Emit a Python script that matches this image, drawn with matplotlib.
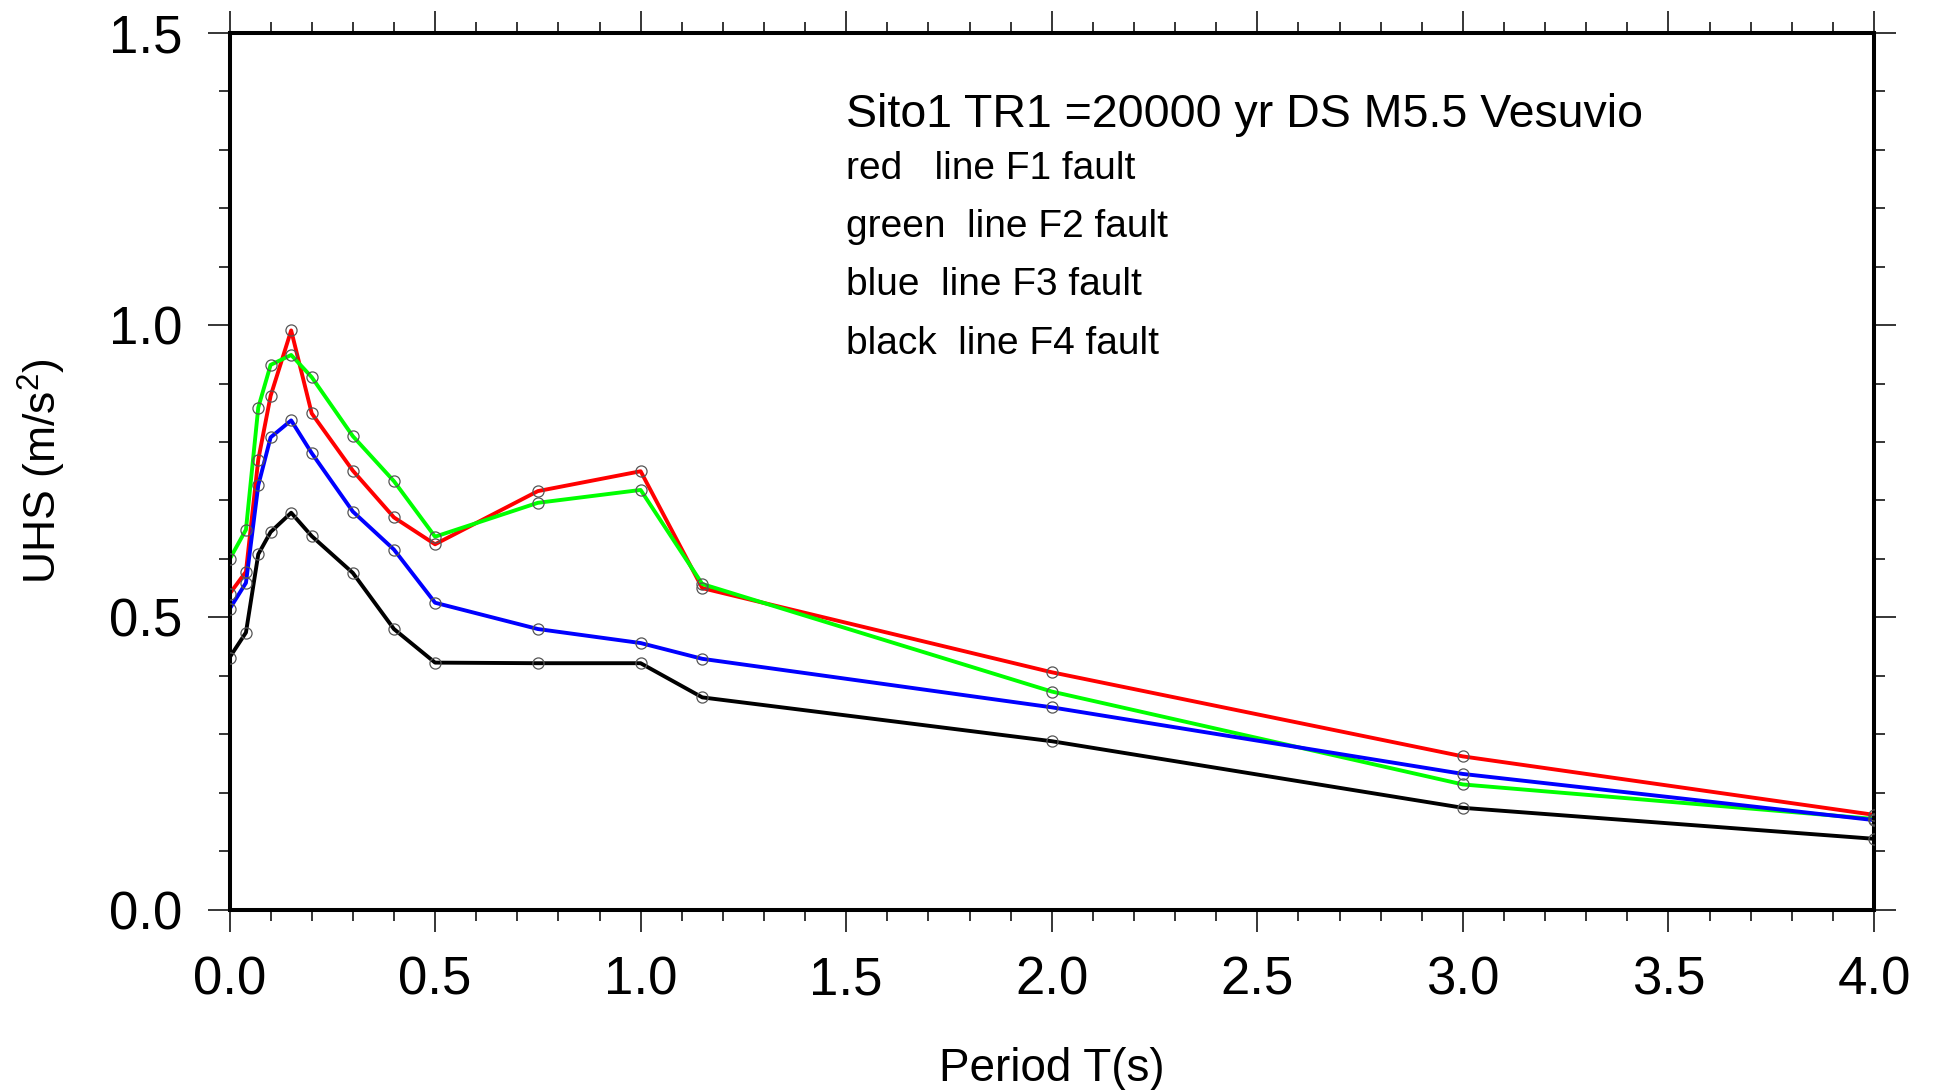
import matplotlib
matplotlib.use("Agg")
import matplotlib.pyplot as plt
from matplotlib.ticker import MultipleLocator

plt.rcParams['font.family'] = ['Liberation Sans', 'DejaVu Sans']
plt.rcParams['mathtext.fontset'] = 'custom'
plt.rcParams['mathtext.rm'] = 'Liberation Sans'
plt.rcParams['mathtext.it'] = 'Liberation Sans:italic'

# Spectral periods (s)
periods = [0.0, 0.04, 0.07, 0.1, 0.15, 0.2, 0.3, 0.4, 0.5, 0.75, 1.0, 1.15, 2.0, 3.0, 4.0]

# Uniform hazard spectra (m/s^2) for each fault source
uhs_f1 = [0.540, 0.578, 0.770, 0.879, 0.991, 0.849, 0.751, 0.671, 0.625, 0.716, 0.750, 0.550, 0.406, 0.262, 0.162]
uhs_f2 = [0.599, 0.650, 0.859, 0.932, 0.949, 0.911, 0.810, 0.733, 0.638, 0.696, 0.718, 0.557, 0.373, 0.214, 0.155]
uhs_f3 = [0.514, 0.559, 0.726, 0.808, 0.837, 0.781, 0.681, 0.616, 0.525, 0.480, 0.456, 0.429, 0.346, 0.232, 0.153]
uhs_f4 = [0.431, 0.474, 0.608, 0.646, 0.679, 0.639, 0.576, 0.480, 0.4225, 0.4215, 0.4215, 0.363, 0.288, 0.174, 0.121]

series = [(uhs_f1, '#ff0000'), (uhs_f2, '#00ff00'), (uhs_f3, '#0000ff'), (uhs_f4, '#000000')]

title_text = "Sito1 TR1 =20000 yr DS M5.5 Vesuvio"
legend_lines = ["red   line F1 fault", "green  line F2 fault",
                "blue  line F3 fault", "black  line F4 fault"]

W, H = 1937, 1090
fig = plt.figure(figsize=(W / 100, H / 100), dpi=100)
ax = fig.add_axes([229.5 / W, 1 - 909.5 / H, (1874 - 229.5) / W, (909.5 - 33) / H])

for vals, col in series:
    ax.plot(periods, vals, color=col, lw=2.8, zorder=2)
for vals, col in series:
    ax.plot(periods, vals, ls='none', marker='o', ms=8, mfc='none',
            mec='#555555', mew=0.9, zorder=3)

ax.set_xlim(0, 4)
ax.set_ylim(0, 1.5)
ax.xaxis.set_major_locator(MultipleLocator(0.5))
ax.xaxis.set_minor_locator(MultipleLocator(0.1))
ax.yaxis.set_major_locator(MultipleLocator(0.5))
ax.yaxis.set_minor_locator(MultipleLocator(0.1))
ax.xaxis.set_major_formatter(plt.FormatStrFormatter('%.1f'))
ax.yaxis.set_major_formatter(plt.FormatStrFormatter('%.1f'))

for s in ax.spines.values():
    s.set_linewidth(2.9)
ax.tick_params(which='both', direction='out', top=True, right=True,
               labeltop=False, labelright=False, width=1.1, color='black')
ax.tick_params(which='major', length=16, labelsize=38)
ax.tick_params(axis='y', which='major', pad=18)
ax.tick_params(axis='x', which='major', pad=17)
ax.tick_params(which='minor', length=8)

ax.set_xlabel('Period T(s)', fontsize=33, labelpad=30)
ax.set_ylabel('UHS (m/s$^2$)', fontsize=32, labelpad=29)

ax.text(1.5, 1.36, title_text, fontsize=33.5, ha='left', va='center')
for i, txt in enumerate(legend_lines):
    ax.text(1.5, 1.268 - 0.1 * i, txt, fontsize=28, ha='left', va='center')

fig.savefig('out.png', dpi=100)
